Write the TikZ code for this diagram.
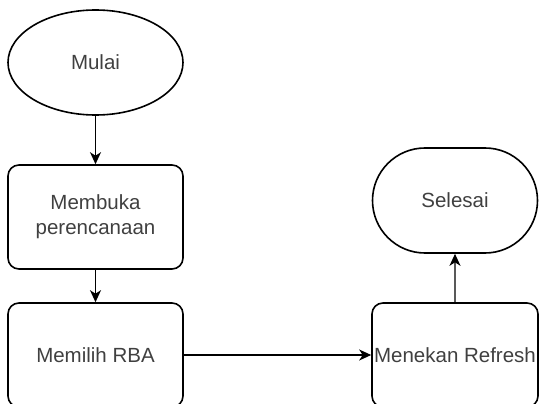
\documentclass[tikz,border=0pt]{standalone}
\usepackage{fontspec}
\setmainfont{Liberation Sans}
\usepackage{xcolor}
\usetikzlibrary{arrows.meta}
\usetikzlibrary{shapes.geometric,shapes.misc}
\tikzset{>={Stealth[length=12pt,width=11pt,inset=3.5pt]}}

\begin{document}
\begin{tikzpicture}[x=1pt,y=1pt]
                        % terminal = mulai/selesai, langkah = kotak proses
                        \useasboundingbox (0,0) rectangle (539,-404);
                        \tikzstyle{every node}=[draw=black, line width=1.6pt, text=black!75, font=\fontsize{20.5}{25}\selectfont, align=center, inner sep=1pt]
                        \tikzstyle{langkah}=[rectangle, rounded corners=11pt, minimum width=175pt, minimum height=104pt]
                        \tikzstyle{every edge}=[black, ->, line width=1.3pt, draw]
                        \node[ellipse, minimum width=175pt, minimum height=105pt] (mulai) at (95.5, -62.5) {Mulai};

                        \node[langkah] (membuka) [below of = mulai, node distance=154.5pt] {Membuka\\perencanaan};
                        \draw (mulai) edge (membuka);
                        \node[langkah] (memilih) [below of = membuka, node distance=138pt] {Memilih RBA};
                        \draw (membuka) edge (memilih);

                        \node[langkah, minimum width=166pt] (refresh) [right of = memilih, node distance=359.5pt] {Menekan Refresh};
                        \draw (memilih) edge (refresh);
                        \node[rounded rectangle, minimum width=167pt, minimum height=105pt] (selesai) [above of = refresh, node distance=154.5pt] {Selesai};
                        \draw (refresh) edge (selesai);

                \end{tikzpicture}
\end{document}
